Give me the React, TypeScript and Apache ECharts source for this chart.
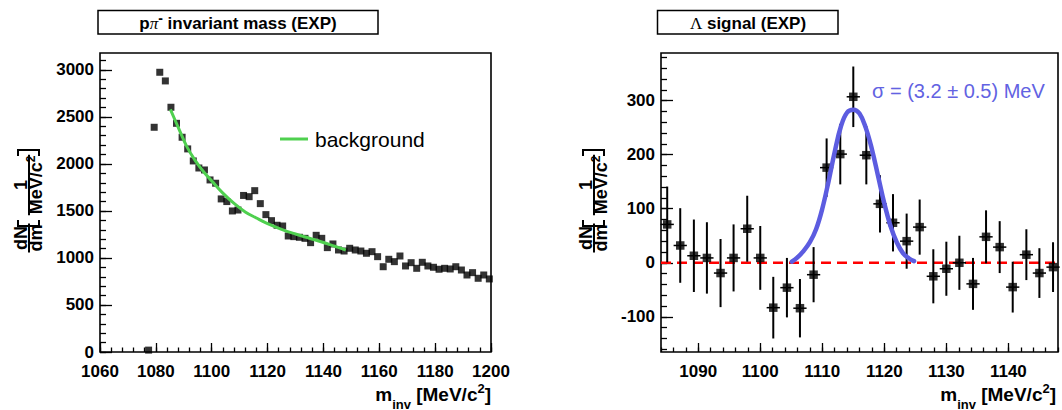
import React, { useEffect, useRef } from "react";
import * as echarts from "echarts";

// ---- p pi- invariant mass spectrum (left panel) ----
const massX = [
  1077.4, 1079.4, 1081.4, 1083.4, 1085.4, 1087.4, 1089.4, 1091.4, 1093.4, 1095.4,
  1097.4, 1099.4, 1101.4, 1103.4, 1105.4, 1107.4, 1109.4, 1111.4, 1113.4, 1115.4,
  1117.4, 1119.4, 1121.4, 1123.4, 1125.4, 1127.4, 1129.4, 1131.4, 1133.4, 1135.4,
  1137.4, 1139.4, 1141.4, 1143.4, 1145.4, 1147.4, 1149.4, 1151.4, 1153.4, 1155.4,
  1157.4, 1159.4, 1161.4, 1163.4, 1165.4, 1167.4, 1169.4, 1171.4, 1173.4, 1175.4,
  1177.4, 1179.4, 1181.4, 1183.4, 1185.4, 1187.4, 1189.4, 1191.4, 1193.4, 1195.4,
  1197.4, 1199.4,
];
const massY = [
  20, 2390, 2975, 2883, 2603, 2432, 2284, 2160, 2032, 1957,
  1936, 1830, 1795, 1628, 1600, 1500, 1510, 1665, 1652, 1716,
  1578, 1461, 1397, 1348, 1340, 1234, 1227, 1220, 1209, 1163,
  1241, 1209, 1110, 1149, 1085, 1074, 1103, 1085, 1074, 1050,
  1067, 1014, 907, 986, 961, 1021, 915, 950, 890, 954,
  915, 901, 880, 890, 883, 907, 872, 819, 844, 784,
  819, 777,
];

// background fit curve
const bgX = [1085.2, 1088, 1091, 1094, 1097, 1100, 1104, 1108, 1112, 1116, 1120, 1125, 1130, 1135, 1140, 1144, 1148];
const bgY = [2580, 2390, 2190, 2040, 1920, 1820, 1690, 1580, 1490, 1425, 1365, 1305, 1255, 1210, 1165, 1125, 1085];

// ---- Lambda signal after background subtraction (right panel) ----
const sigX = [
  1085.0, 1087.1, 1089.3, 1091.4, 1093.6, 1095.7, 1097.9, 1100.0, 1102.1, 1104.3,
  1106.4, 1108.6, 1110.7, 1112.9, 1115.0, 1117.1, 1119.3, 1121.4, 1123.6, 1125.7,
  1127.9, 1130.0, 1132.1, 1134.3, 1136.4, 1138.6, 1140.7, 1142.9, 1145.0, 1147.2,
];
const sigY = [
  71, 32, 13, 9, -19, 9, 63, 9, -83, -46,
  -84, -22, 176, 201, 307, 199, 109, 74, 40, 66,
  -25, -11, 0, -39, 48, 29, -45, 15, -19, -8,
];
const sigErr = [
  70, 69, 67, 66, 63, 62, 61, 59, 57, 55,
  54, 51, 54, 56, 56, 54, 53, 53, 51, 51,
  50, 50, 50, 48, 49, 48, 47, 47, 46, 46,
];
const sigHalfBin = 1.07;

// gaussian fit curve
const gausX = [1105.1, 1106, 1107, 1108, 1109, 1110, 1111, 1112, 1113, 1114, 1115, 1116, 1117, 1118, 1119, 1120, 1121, 1122, 1123, 1124, 1124.8];
const gausY = [2, 10, 22, 38, 62, 100, 150, 205, 252, 278, 283, 276, 250, 210, 160, 110, 68, 38, 18, 8, 3];

const zeroLineX = [1084, 1148];

// axis ranges and ticks
const leftXRange = [1060, 1200];
const leftYRange = [0, 3180];
const rightXRange = [1084, 1148];
const rightYRange = [-165, 388];
const leftXTicks = [1060, 1080, 1100, 1120, 1140, 1160, 1180, 1200];
const leftYTicks = [0, 500, 1000, 1500, 2000, 2500, 3000];
const rightXTicks = [1090, 1100, 1110, 1120, 1130, 1140];
const rightYTicks = [-100, 0, 100, 200, 300];

const FONT = '"Liberation Sans", Arial, Helvetica, sans-serif';
const SERIF = '"Liberation Serif", "Times New Roman", serif';
const BLUE = "#5c5ce0";
const GREEN = "#4fd04f";

function steps(from: number, to: number, step: number): number[] {
  const out: number[] = [];
  for (let v = from; v <= to + 1e-9; v += step) out.push(Math.round(v * 1000) / 1000);
  return out;
}

type Piece = {
  t: string;
  size: number;
  weight?: string;
  style?: string;
  family?: string;
  dy?: number;
  space?: boolean;
};

let measureCtx: CanvasRenderingContext2D | null = null;
function cssFont(p: Piece) {
  return `${p.style || "normal"} ${p.weight || "bold"} ${p.size}px ${p.family || FONT}`;
}
function measure(text: string, font: string) {
  if (!measureCtx) measureCtx = document.createElement("canvas").getContext("2d");
  measureCtx!.font = font;
  return measureCtx!.measureText(text).width;
}

// lays out a row of text pieces (sub/superscripts) along x
function row(pieces: Piece[], x: number, y: number, align: "left" | "center" | "right", fill = "#000") {
  const widths = pieces.map((p) => measure(p.t, cssFont(p)) + (p.space ? measure(" ", cssFont(p)) : 0));
  const total = widths.reduce((a, b) => a + b, 0);
  let cx = align === "left" ? x : align === "center" ? x - total / 2 : x - total;
  return pieces.map((p, i) => {
    const gap = p.space ? measure(" ", cssFont(p)) : 0;
    const el = {
      type: "text",
      x: cx + gap,
      y: y + (p.dy || 0),
      z: 100,
      style: {
        text: p.t,
        fill,
        fontSize: p.size,
        fontWeight: p.weight || "bold",
        fontStyle: p.style || "normal",
        fontFamily: p.family || FONT,
        align: "left",
        verticalAlign: "middle",
      },
    };
    cx += widths[i];
    return el;
  });
}

// rotated dN/dm [1 / MeV/c^2] axis title
function yTitle(dx: number) {
  const size = 18;
  const big = `normal bold ${size}px ${FONT}`;
  const small = `normal bold 12px ${FONT}`;
  const rot = Math.PI / 2;
  const txt = (t: string, x: number, y: number, fs: number) => ({
    type: "text",
    x,
    y,
    rotation: rot,
    z: 100,
    style: { text: t, fill: "#000", fontSize: fs, fontWeight: "bold", fontFamily: FONT, align: "center", verticalAlign: "middle" },
  });
  const barX = 29 + dx;
  const numX = 20.5 + dx;
  const denX = 36 + dx;
  // dN / dm
  const cA = 238;
  const wA = Math.max(measure("dN", big), measure("dm", big)) + 2;
  // 1 / MeV/c^2
  const cB = 185;
  const w1 = measure("MeV/c", big);
  const w2 = measure("2", small);
  const L = w1 + w2;
  const line = (x1: number, y1: number, x2: number, y2: number) => ({
    type: "line",
    z: 100,
    shape: { x1, y1, x2, y2 },
    style: { stroke: "#000", lineWidth: 2 },
  });
  return [
    txt("dN", numX, cA, size),
    txt("dm", denX, cA, size),
    line(barX, cA - wA / 2, barX, cA + wA / 2),
    {
      type: "polyline",
      z: 100,
      shape: { points: [[18 + dx, 220], [18 + dx, 226], [39 + dx, 226], [39 + dx, 220]] },
      style: { stroke: "#000", lineWidth: 2, fill: null },
    },
    txt("1", numX, cB, size),
    txt("MeV/c", denX, cB + L / 2 - w1 / 2, size),
    txt("2", denX - 5, cB + L / 2 - w1 - w2 / 2, 12),
    line(barX, cB - L / 2 - 1, barX, cB + L / 2 + 1),
    {
      type: "polyline",
      z: 100,
      shape: { points: [[18 + dx, 156], [18 + dx, 150], [39 + dx, 150], [39 + dx, 156]] },
      style: { stroke: "#000", lineWidth: 2, fill: null },
    },
  ];
}

function xTitle(right: number) {
  return row(
    [
      { t: "m", size: 19 },
      { t: "inv", size: 13, dy: 10 },
      { t: "[MeV/c", size: 19, space: true },
      { t: "2", size: 13, dy: -6 },
      { t: "]", size: 19 },
    ],
    right,
    394,
    "right"
  );
}

function titleBox(x: number, w: number) {
  return {
    type: "rect",
    z: 99,
    shape: { x, y: 10.5, width: w, height: 23.5 },
    style: { fill: "#fff", stroke: "#000", lineWidth: 1.5 },
  };
}

const tickLine = { color: "#000", width: 1.3 };
const labelStyle = { color: "#000", fontFamily: FONT, fontWeight: "bold" as const, fontSize: 17 };

function xAxes(grid: number, range: number[], major: number[], minor: number[]) {
  const base = {
    type: "value",
    gridIndex: grid,
    min: range[0],
    max: range[1],
    position: "bottom",
    axisLine: { show: false, onZero: false },
    splitLine: { show: false },
  };
  return [
    {
      ...base,
      axisTick: { show: true, inside: true, length: 9, customValues: major, lineStyle: tickLine },
      axisLabel: { show: true, customValues: major, margin: 11, formatter: (v: number) => String(v), ...labelStyle },
    },
    {
      ...base,
      axisTick: { show: true, inside: true, length: 4.5, customValues: minor, lineStyle: tickLine },
      axisLabel: { show: false },
    },
  ];
}

function yAxes(grid: number, range: number[], major: number[], minor: number[]) {
  const base = {
    type: "value",
    gridIndex: grid,
    min: range[0],
    max: range[1],
    position: "left",
    axisLine: { show: false, onZero: false },
    splitLine: { show: false },
  };
  return [
    {
      ...base,
      axisTick: { show: true, inside: true, length: 12, customValues: major, lineStyle: tickLine },
      axisLabel: { show: true, customValues: major, margin: 6, formatter: (v: number) => String(v), ...labelStyle },
    },
    {
      ...base,
      axisTick: { show: true, inside: true, length: 6, customValues: minor, lineStyle: tickLine },
      axisLabel: { show: false },
    },
  ];
}

function buildOption() {
  const zip = (xs: number[], ys: number[]) => xs.map((x, i) => [x, ys[i]]);
  const frame = { show: true, borderColor: "#000", borderWidth: 1.6, backgroundColor: "transparent" };
  return {
    animation: false,
    backgroundColor: "#fff",
    grid: [
      { left: 100, top: 53, width: 391, height: 299, ...frame },
      { left: 661, top: 53, width: 397, height: 299, ...frame },
    ],
    xAxis: [
      ...xAxes(0, leftXRange, leftXTicks, steps(1060, 1200, 4)),
      ...xAxes(1, rightXRange, rightXTicks, steps(1084, 1148, 2)),
    ],
    yAxis: [
      ...yAxes(0, leftYRange, leftYTicks, steps(0, 3100, 100)),
      ...yAxes(1, rightYRange, rightYTicks, steps(-160, 380, 20)),
    ],
    series: [
      {
        type: "scatter",
        xAxisIndex: 0,
        yAxisIndex: 0,
        data: zip(massX, massY),
        symbol: "rect",
        symbolSize: 7,
        itemStyle: { color: "#000" },
        z: 3,
      },
      {
        type: "line",
        xAxisIndex: 0,
        yAxisIndex: 0,
        data: zip(bgX, bgY),
        smooth: 0.4,
        showSymbol: false,
        symbol: "none",
        lineStyle: { color: GREEN, width: 3 },
        z: 4,
      },
      {
        type: "line",
        xAxisIndex: 2,
        yAxisIndex: 2,
        data: zeroLineX.map((x) => [x, 0]),
        symbol: "none",
        lineStyle: { color: "#ff0000", width: 2.5, type: [10, 6] },
        z: 2,
      },
      {
        type: "custom",
        xAxisIndex: 2,
        yAxisIndex: 2,
        data: sigX.map((x, i) => [x, sigY[i], sigErr[i]]),
        encode: { x: 0, y: 1 },
        z: 3,
        renderItem: (_params: any, api: any) => {
          const x = api.value(0);
          const y = api.value(1);
          const e = api.value(2);
          const top = api.coord([x, y + e]);
          const bot = api.coord([x, y - e]);
          const l = api.coord([x - sigHalfBin, y]);
          const r = api.coord([x + sigHalfBin, y]);
          return {
            type: "group",
            children: [
              { type: "line", shape: { x1: top[0], y1: top[1], x2: bot[0], y2: bot[1] }, style: { stroke: "#000", lineWidth: 2 } },
              { type: "line", shape: { x1: l[0], y1: l[1], x2: r[0], y2: r[1] }, style: { stroke: "#000", lineWidth: 1.5 } },
            ],
          };
        },
      },
      {
        type: "scatter",
        xAxisIndex: 2,
        yAxisIndex: 2,
        data: zip(sigX, sigY),
        symbol: "rect",
        symbolSize: 8.5,
        itemStyle: { color: "#000" },
        z: 4,
      },
      {
        type: "line",
        xAxisIndex: 2,
        yAxisIndex: 2,
        data: zip(gausX, gausY),
        smooth: 0.4,
        showSymbol: false,
        symbol: "none",
        lineStyle: { color: BLUE, width: 4.5, cap: "round" },
        z: 5,
      },
    ],
    graphic: [
      titleBox(98, 280),
      ...row(
        [
          { t: "p", size: 17 },
          { t: "\u03c0", size: 17, weight: "normal", style: "italic", family: SERIF },
          { t: "-", size: 14, dy: -6 },
          { t: "invariant mass (EXP)", size: 17, space: true },
        ],
        238,
        23.5,
        "center"
      ),
      titleBox(657.5, 180.5),
      ...row(
        [
          { t: "\u039b", size: 17, weight: "normal", family: SERIF },
          { t: "signal (EXP)", size: 17, space: true },
        ],
        748,
        23.5,
        "center"
      ),
      {
        type: "line",
        z: 100,
        shape: { x1: 280, y1: 139, x2: 308, y2: 139 },
        style: { stroke: GREEN, lineWidth: 3 },
      },
      {
        type: "text",
        x: 315,
        y: 139,
        z: 100,
        style: { text: "background", fill: "#000", fontSize: 21, fontFamily: FONT, align: "left", verticalAlign: "middle" },
      },
      {
        type: "text",
        x: 872,
        y: 91,
        z: 100,
        style: { text: "\u03c3 = (3.2 \u00b1 0.5) MeV", fill: "#6262e2", fontSize: 20, fontFamily: FONT, align: "left", verticalAlign: "middle" },
      },
      ...yTitle(0),
      ...yTitle(565),
      ...xTitle(491),
      ...xTitle(1056),
    ],
  };
}

export default function App() {
  const ref = useRef<HTMLDivElement>(null);
  useEffect(() => {
    if (!ref.current) return;
    const chart = echarts.init(ref.current, null, { renderer: "svg" });
    chart.setOption(buildOption() as any);
    return () => chart.dispose();
  }, []);
  return (
    <div
      ref={ref}
      style={{ position: "fixed", left: 0, top: 0, width: 1062, height: 410, background: "#fff" }}
    />
  );
}
